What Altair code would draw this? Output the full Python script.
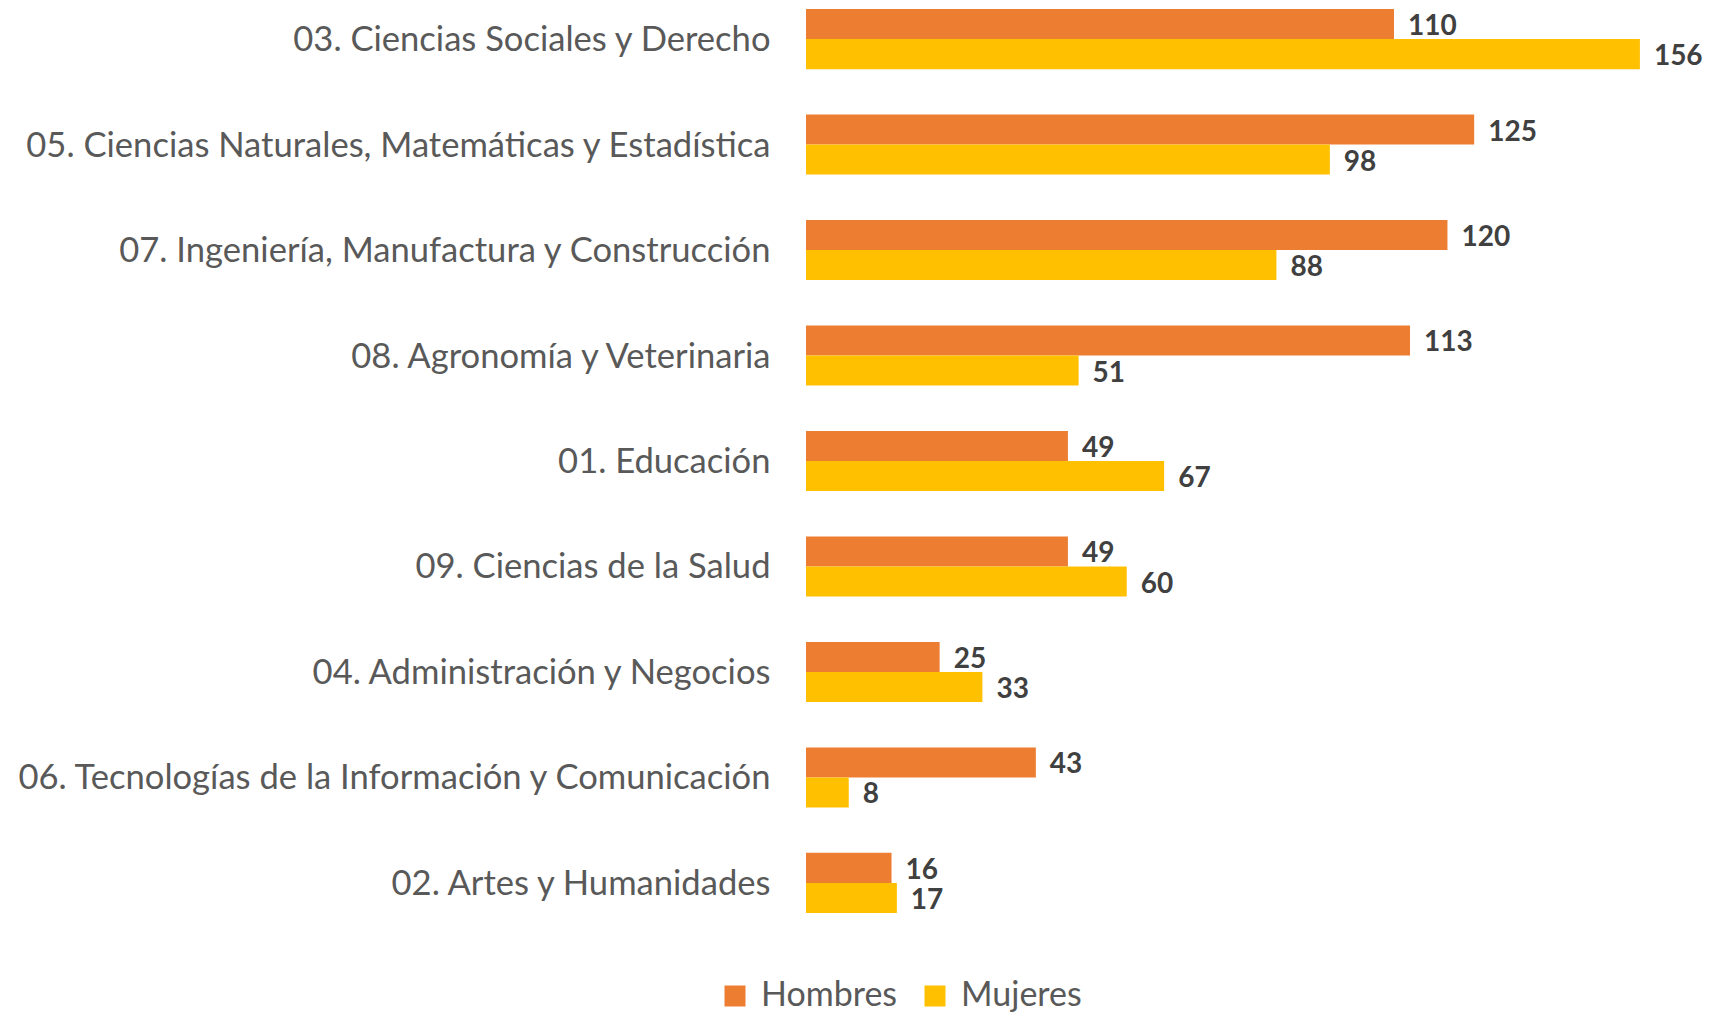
import altair as alt
import pandas as pd

categories = [
    "03. Ciencias Sociales y Derecho",
    "05. Ciencias Naturales, Matemáticas y Estadística",
    "07. Ingeniería, Manufactura y Construcción",
    "08. Agronomía y Veterinaria",
    "01. Educación",
    "09. Ciencias de la Salud",
    "04. Administración y Negocios",
    "06. Tecnologías de la Información y Comunicación",
    "02. Artes y Humanidades",
]
hombres = [110, 125, 120, 113, 49, 49, 25, 43, 16]
mujeres = [156, 98, 88, 51, 67, 60, 33, 8, 17]
series = ["Hombres", "Mujeres"]
colors = ["#ED7D31", "#FFC000"]

rows = []
for c, h, m in zip(categories, hombres, mujeres):
    rows.append({"cat": c, "serie": series[0], "val": h})
    rows.append({"cat": c, "serie": series[1], "val": m})
df = pd.DataFrame(rows)

FONT = "Lato"

y = alt.Y("cat:N", sort=categories, title=None,
          scale=alt.Scale(paddingInner=0.43, paddingOuter=0.0),
          axis=alt.Axis(domain=False, ticks=False, labelFontSize=34.6, labelColor="#595959",
                        labelFont=FONT, labelPadding=36, labelLimit=1000, labelOffset=2))
x = alt.X("val:Q", title=None, scale=alt.Scale(domain=[0, 165], nice=False),
          axis=None)

base = alt.Chart(df).encode(
    y=y,
    yOffset=alt.YOffset("serie:N", sort=series, scale=alt.Scale(paddingInner=0, paddingOuter=0)),
)

bars = base.mark_bar(cornerRadius=0).encode(
    x=x,
    color=alt.Color("serie:N", sort=series,
                    scale=alt.Scale(domain=series, range=colors),
                    legend=alt.Legend(title=None, orient="none", direction="horizontal",
                                      legendX=-88, legendY=970, symbolType="square",
                                      symbolSize=441, symbolStrokeWidth=0, labelFontSize=34,
                                      labelFont=FONT, labelColor="#595959", columnPadding=20,
                                      labelOffset=9, padding=0)),
)

labels = base.mark_text(align="left", baseline="middle", dx=14, dy=3, fontSize=28,
                        fontWeight="bold", font=FONT, color="#404040").encode(
    x=x,
    text=alt.Text("val:Q"),
)

chart = (bars + labels).properties(
    width=882, height=904,
    autosize=alt.AutoSizeParams(type="none"),
    padding={"left": 798, "top": 1, "right": 15, "bottom": 100},
    background="white",
).configure_view(stroke=None)

chart.save("out.html", embed_options={"renderer": "svg", "actions": False})
